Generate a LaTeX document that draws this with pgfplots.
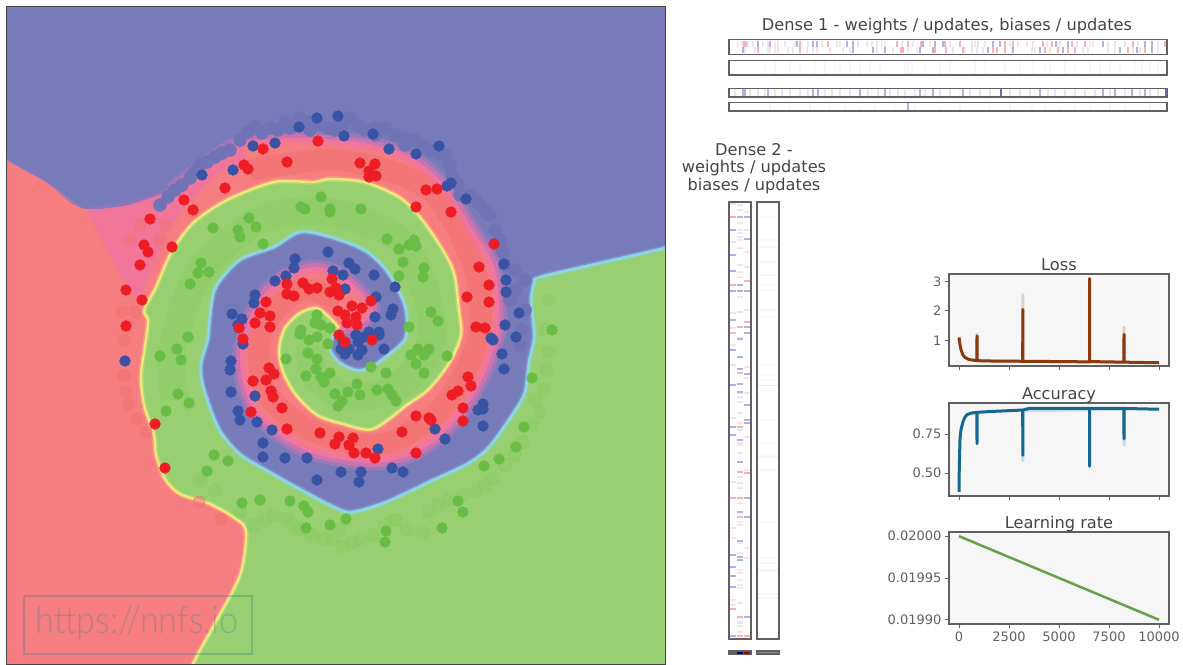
\documentclass[border=0pt]{standalone}
\usepackage{pgfplots}
\usepackage{fontspec}
\pgfplotsset{compat=1.18}
\setmainfont{DejaVu Sans}
\newfontfamily\wmfont{Lato Light}
\definecolor{bgblue}{HTML}{787BBA}
\definecolor{bgred}{HTML}{F67D80}
\definecolor{bggreen}{HTML}{97CF71}
\definecolor{armgreen}{HTML}{8BCB60}
\definecolor{armred}{HTML}{F47272}
\definecolor{pinkedge}{HTML}{EE72AE}
\definecolor{cyanedge}{HTML}{8ED9F0}
\definecolor{yellowedge}{HTML}{F6F07E}
\definecolor{dotred}{HTML}{EE1C25}
\definecolor{dotblue}{HTML}{3953A4}
\definecolor{dotgreen}{HTML}{69BD45}
\definecolor{fadeblue}{HTML}{7073B5}
\definecolor{gtext}{HTML}{444444}
\definecolor{gaxis}{HTML}{606060}
\definecolor{rs}{HTML}{F7B3B9}
\definecolor{rp}{HTML}{FCE0E3}
\definecolor{bs}{HTML}{B0B2E0}
\definecolor{bp}{HTML}{E6E7F6}
\definecolor{fr}{HTML}{FDF5F6}
\definecolor{fb}{HTML}{F5F5FC}
\definecolor{lossc}{HTML}{8B3A10}
\definecolor{accc}{HTML}{14688F}
\definecolor{lrc}{HTML}{689F49}
\definecolor{bd}{HTML}{6A6EB8}

% decision boundaries, in picture pixels
\def\bA{(720,234)(665,248)(600,263)(540,277)(534,283)(531,300)(533,320)(534,339)(529,362)(525,392)(514,412)(489,447)(467,464)(433,480)(386,502)(351,512)(330,505)(296,487)(266,470)(240,454)(219,429)(204,389)(201,365)(208,339)(210,317)(216,287)(240,260)(274,247)(300,232)(330,237)(364,250)(386,270)(403,300)(407,320)(405,339)(392,352)(371,367)(356,370)(339,362)(330,349)(333,337)(339,328)}
\def\bB{(339,328)(330,318)(317,308)(300,313)(285,328)(279,349)(283,372)(296,395)(317,415)(343,424)(373,429)(407,405)(429,389)(450,362)(461,335)(459,310)(454,273)(441,247)(420,217)(399,197)(364,182)(330,179)(313,182)(274,182)(227,200)(193,223)(171,253)(156,287)(144,310)(148,320)(146,339)(141,375)(144,405)(154,435)(156,455)(165,479)(180,494)(210,504)(236,519)(246,532)(240,575)(214,625)(193,664)(170,720)}
\def\bC{(-40,130)(6,160)(47,183)(81,208)(129,205)(171,190)(201,167)(240,143)(300,138)(364,143)(411,157)(446,187)(471,227)(493,263)(499,300)(499,330)(495,345)(484,375)(463,412)(437,439)(411,455)(377,463)(343,460)(309,452)(279,435)(253,409)(242,379)(240,352)(244,337)(249,320)(261,297)(283,277)(313,267)(338,273)(356,287)(373,307)(365,322)(345,330)(339,328)}
\def\bCglow{(171,190)(201,167)(240,143)(300,138)(364,143)(411,157)(446,187)(471,227)(493,263)(499,300)(499,330)(495,345)(484,375)(463,412)(437,439)(411,455)(377,463)(343,460)(309,452)(279,435)(253,409)(242,379)(240,352)(244,337)(249,320)(261,297)(283,277)(313,267)(338,273)(356,287)(373,307)(365,322)(345,330)(339,328)}
\newcommand\poly[2]{\edef\temp{\noexpand\addplot[#1] coordinates {#2};}\temp}

\pgfplotsset{
  panel/.style={scale only axis, axis background/.style={fill=white},
    ticks=none, axis line style={draw=gaxis,line width=1.3pt}, axis on top},
  stripx/.style={panel, xmin=729, xmax=1167, anchor=south west, width=438pt},
  mk/.style={only marks, mark=|, color=#1, mark options={line width=1.8pt, solid}},
  mkh/.style={only marks, mark=-, color=#1, mark options={line width=2.2pt, solid}, mark size=3.3pt},
  metric/.style={scale only axis, anchor=south west, width=220pt, xmin=-500, xmax=10500,
    axis background/.style={fill=black!3.5}, axis line style={draw=gaxis,line width=1.3pt},
    axis on top, tick style={draw=gaxis,line width=1pt}, tick align=outside,
    major tick length=4pt, xtick={0,2500,5000,7500,10000}, xtick pos=bottom, ytick pos=left,
    tick label style={font=\fontsize{13}{15}\selectfont, text=gaxis},
    /pgf/number format/assume math mode=true, /pgf/number format/1000 sep={},
    scaled y ticks=false, scaled x ticks=false},
}
\begin{document}
\begin{tikzpicture}[x=1pt,y=1pt]
\path[use as bounding box] (0pt,0pt) rectangle (1183pt,664pt);

% ---------- main decision map
\begin{axis}[at={(6pt,0pt)}, anchor=south west, scale only axis, width=659pt, height=658pt,
  xmin=6, xmax=665, ymin=6, ymax=664, y dir=reverse, ticks=none,
  axis background/.style={fill=bgblue}, axis line style={draw=gtext,line width=1pt}, axis on top]
\addplot[only marks, mark=*, mark size=6.5pt, color=fadeblue, mark options={draw=none}] coordinates {
(240,140)(248,132)(255,127)(262,133)(270,128)(278,130)(285,122)(293,126)(300,118)(310,122)(320,125)(328,128)(335,130)(343,124)(350,118)(358,126)(365,130)(375,128)(385,128)(395,135)(405,138)(415,140)(423,146)(430,150)(438,153)(445,155)(450,165)(452,175)(458,185)(460,195)(470,195)(476,200)(480,205)(486,212)(490,215)(495,230)(500,240)(503,252)(505,265)(515,270)(525,280)(230,150)(222,153)(215,157)(207,162)(200,165)(195,172)(190,178)(182,185)(175,190)(168,197)(160,205)(290,128)(310,130)(340,125)(375,135)(405,145)(510,300)(525,310)(522,330)(520,345)(516,290)};
\poly{smooth, fill=bggreen, draw=none}{\bA \bB (720,720)}
\poly{smooth, fill=bgred, draw=none}{\bB (-50,720) \bC}
% washed pink area
\addplot[fill=pinkedge, fill opacity=.55, draw=pinkedge, draw opacity=.15, line width=7pt, line join=round] coordinates {(88,211)(129,205)(171,190)(201,167)(240,143)(245,160)(215,175)(185,205)(165,235)(150,270)(140,300)(125,280)(88,211)};
% arm tints
\addplot[smooth, draw=armgreen, line width=28pt, opacity=.45] coordinates {(175,400)(172,350)(200,272)(260,220)(330,212)(400,240)(428,300)(430,345)(400,385)(350,398)(315,375)(310,345)};
\addplot[smooth, draw=armred, line width=22pt, opacity=.7] coordinates {(340,300)(300,290)(262,330)(265,390)(310,430)(380,445)(440,410)(478,340)(475,270)(430,190)(340,160)(250,170)};
\addplot[only marks, mark=*, mark size=6pt, color=armred, mark options={draw=none, fill opacity=.5}] coordinates {
(122,312)(135,312)(128,325)(124,340)(124,375)(126,392)(129,404)(137,419)(146,432)(199,502)(221,519)(130,240)(140,225)(165,225)(160,240)};
\addplot[only marks, mark=*, mark size=6.5pt, color=armgreen, mark options={draw=none, fill opacity=.45}] coordinates {
(253,525)(265,520)(274,515)(287,519)(293,525)(300,530)(312,535)(324,539)(333,540)(343,547)(352,542)(360,539)(373,535)(385,525)(395,520)(407,529)(422,532)(429,512)(438,505)(450,499)(463,495)(476,492)(485,485)(493,479)(505,465)(515,455)(523,442)(532,425)(540,412)(544,390)(547,370)(549,352)(549,300)(535,400)(200,480)(215,490)(340,530)(395,520)(240,512)(545,330)};
% edge glow
\poly{smooth, draw=pinkedge, line width=15pt, opacity=.3}{\bCglow}
\poly{smooth, draw=pinkedge, line width=8pt, opacity=.55}{\bCglow}
\addplot[draw=pinkedge, line width=1.5pt, opacity=.5] coordinates {(6,160)(47,183)(81,208)};
\poly{smooth, draw=cyanedge, line width=6pt, opacity=.22}{\bA}
\poly{smooth, draw=cyanedge, line width=2.8pt, opacity=.85}{\bA}
\poly{smooth, draw=yellowedge, line width=5.5pt, opacity=.25}{\bB}
\poly{smooth, draw=yellowedge, line width=2.4pt, opacity=.85}{\bB}
% training points
\addplot[only marks, mark=*, mark size=5.4pt, color=dotblue, mark options={draw=none}] coordinates {
(338,116)(317,118)(299,127)(344,136)(373,134)(275,143)(253,146)(389,149)(439,146)(416,154)(233,170)(202,175)(451,183)(447,186)(466,199)(504,264)(506,280)(506,292)(519,313)(505,325)(328,252)(295,259)(294,268)(333,271)(349,263)(343,275)(355,269)(374,275)(275,281)(286,276)(345,289)(395,287)(376,297)(255,295)(254,303)(393,309)(391,315)(375,317)(232,314)(242,319)(238,325)(369,332)(379,332)
(125,361)(231,361)(230,370)(231,392)(255,396)(238,411)(240,420)(257,422)(272,430)(263,443)(263,457)(285,458)(307,458)(378,449)(341,472)(361,472)(359,482)(317,480)(392,468)(403,472)(435,429)(445,439)(483,426)(478,410)(483,404)(483,409)(504,369)(502,354)(493,340)(491,338)(516,337)(243,344)(345,354)(358,355)(362,350)(384,349)(379,335)(358,342)(341,349)(356,335)(364,337)(343,342)(349,349)};
\addplot[only marks, mark=*, mark size=5.4pt, color=dotgreen, mark options={draw=none}] coordinates {
(321,197)(301,207)(305,209)(330,209)(330,212)(361,209)(249,218)(256,227)(238,230)(213,228)(240,237)(263,244)(387,239)(414,240)(399,249)(409,245)(416,246)(403,262)(201,263)(198,273)(209,272)(190,284)(424,268)(423,277)(399,276)(431,312)(438,321)(409,327)(552,330)(317,315)(315,323)(321,325)(330,328)(301,330)
(160,356)(177,349)(181,360)(188,337)(178,394)(189,403)(166,411)(214,455)(228,461)(207,471)(242,503)(260,500)(290,501)(304,506)(308,512)(306,528)(330,525)(346,519)(386,531)(385,542)(442,528)(458,501)(463,512)(484,466)(499,459)(516,447)(524,427)(532,378)(286,359)(308,353)(317,359)(316,369)(306,376)(330,373)(324,382)(321,377)(357,384)(348,392)(360,395)(335,394)(342,401)(338,406)(377,390)(388,389)(396,401)(392,395)(371,367)(386,373)(424,373)(416,364)(411,355)(418,349)(429,349)(424,355)(447,356)(309,340)(317,337)(328,344)(300,334)};
\addplot[only marks, mark=*, mark size=5.4pt, color=dotred, mark options={draw=none}] coordinates {
(318,141)(263,149)(287,162)(244,165)(248,169)(360,163)(375,164)(369,171)(376,176)(369,177)(225,188)(426,190)(437,189)(184,200)(193,210)(416,207)(451,212)(150,219)(144,245)(148,252)(172,247)(494,244)(140,265)(479,267)(126,290)(142,300)(489,285)(467,297)(489,302)(126,326)(332,279)(287,284)(303,283)(309,289)(317,288)(287,294)(294,296)(330,292)(336,288)(339,295)(266,302)(371,301)(260,313)(270,316)(255,323)(270,327)(239,328)(338,311)(352,306)(362,308)(345,315)(356,317)(347,323)(357,325)(476,327)(485,328)
(243,339)(345,342)(339,335)(372,340)(269,368)(274,374)(253,381)(266,380)(271,391)(273,397)(282,408)(251,412)(287,429)(320,433)(339,437)(353,438)(335,444)(349,445)(354,453)(366,453)(375,458)(416,453)(402,432)(416,416)(429,418)(431,420)(463,408)(463,421)(452,395)(458,391)(468,377)(471,386)(155,424)(165,468)};
% watermark
\addplot[draw=teal!70!gray, line width=1.5pt, opacity=.3] coordinates {(24,596)(252,596)(252,654)(24,654)(24,596)};
\node[text=teal!70!gray, opacity=.28, font=\wmfont\fontsize{38}{42}\selectfont, anchor=center, xscale=.9] at (axis cs:137,623) {https://nnfs.io};
\end{axis}

% ---------- Dense 1 strips
\begin{axis}[stripx, at={(729pt,609.5pt)}, height=15pt, ymin=0, ymax=2]
\addplot[mk=rp, mark size=3.1pt] coordinates {(738,1.45)(742,1.45)(768,1.45)(778,1.45)(840,1.45)(867,1.45)(795,1.45)(822,1.45)(882,1.45)(902,1.45)(930,1.45)(950,1.45)(975,1.45)(985,1.45)(1018,1.45)(1027,1.45)(1033,1.45)(1047,1.45)(1068,1.45)(1090,1.45)(1108,1.45)(1138,1.45)(755,.55)(768,.55)(775,.55)(778,.55)(793,.55)(807,.55)(817,.55)(830,.55)(843,.55)(893,.55)(908,.55)(917,.55)(965,.55)(983,.55)(1012,.55)(1032,.55)(1050,.55)(1083,.55)(1108,.55)(1133,.55)(1140,.55)};
\addplot[mk=bp, mark size=3.1pt] coordinates {(748,1.45)(753,1.45)(763,1.45)(775,1.45)(785,1.45)(808,1.45)(837,1.45)(858,1.45)(872,1.45)(877,1.45)(885,1.45)(913,1.45)(972,1.45)(978,1.45)(1010,1.45)(1060,1.45)(1077,1.45)(1093,1.45)(1115,1.45)(1125,1.45)(1158,1.45)(745,.55)(770,.55)(788,.55)(813,.55)(850,.55)(877,.55)(953,.55)(972,.55)(977,.55)(1035,.55)(1088,.55)(1115,.55)(1158,.55)};
\addplot[mk=rs, mark size=3.1pt] coordinates {(744,1.45)(746,1.45)(828,1.45)(800,1.45)(897,1.45)(908,1.45)(921,1.45)(945,1.45)(960,1.45)(1005,1.45)(1013,1.45)(1043,1.45)(1052,1.45)(1085,1.45)(1133,1.45)(1165,1.45)(1072,1.45)(800,.55)(758,.55)(901,.55)(903,.55)(935,.55)(946,.55)(993,.55)(997,.55)(1005,.55)(963,.55)(1045,.55)(1058,.55)(1068,.55)(1075,.55)(1128,.55)(1145,.55)};
\addplot[mk=bs, mark size=3.1pt] coordinates {(758,1.45)(770,1.45)(797,1.45)(813,1.45)(817,1.45)(847,1.45)(853,1.45)(993,1.45)(1000,1.45)(943,1.45)(923,1.45)(935,1.45)(1056,1.45)(1103,1.45)(1145,1.45)(1152,1.45)(1068,1.45)(743,.55)(853,.55)(873,.55)(885,.55)(920,.55)(933,.55)(988,.55)(1013,.55)(1040,.55)(1063,.55)(1120,.55)(1137,.55)(1152,.55)};
\end{axis}
\begin{axis}[stripx, at={(729pt,589pt)}, height=14.5pt, ymin=0, ymax=1]
\addplot[mk=fr, mark size=6.4pt] coordinates {(765,.5)(790,.5)(815,.5)(835,.5)(850,.5)(870,.5)(905,.5)(925,.5)(950,.5)(985,.5)(1020,.5)(1033,.5)(1045,.5)(1075,.5)(1090,.5)(1110,.5)(1135,.5)(1150,.5)};
\addplot[mk=fb, mark size=6.4pt] coordinates {(775,.5)(800,.5)(825,.5)(840,.5)(860,.5)(880,.5)(908,.5)(912,.5)(940,.5)(975,.5)(1005,.5)(1050,.5)(1065,.5)(1100,.5)(1120,.5)(1142,.5)(1158,.5)};
\end{axis}
\begin{axis}[stripx, at={(729pt,567pt)}, height=8.5pt, ymin=0, ymax=1]
\addplot[mk=bp, mark size=3.6pt] coordinates {(735,.5)(750,.5)(758,.5)(765,.5)(775,.5)(782,.5)(790,.5)(800,.5)(808,.5)(825,.5)(832,.5)(840,.5)(850,.5)(868,.5)(878,.5)(890,.5)(898,.5)(905,.5)(915,.5)(925,.5)(940,.5)(950,.5)(970,.5)(980,.5)(990,.5)(1010,.5)(1020,.5)(1030,.5)(1048,.5)(1055,.5)(1065,.5)(1075,.5)(1085,.5)(1095,.5)(1110,.5)(1125,.5)(1140,.5)(1150,.5)(1158,.5)};
\addplot[mk=fr, mark size=3.6pt] coordinates {(772,.5)(830,.5)(845,.5)(872,.5)(910,.5)(960,.5)(1005,.5)(1035,.5)(1072,.5)(1128,.5)};
\addplot[mk=bs, mark size=3.6pt] coordinates {(743,.5)(745,.5)(768,.5)(813,.5)(818,.5)(860,.5)(885,.5)(920,.5)(933,.5)(963,.5)(1040,.5)(1103,.5)(1115,.5)(1132,.5)(1145,.5)};
\addplot[mk=bd, mark size=3.6pt] coordinates {(1001,.5)(1166,.5)};
\end{axis}
\begin{axis}[stripx, at={(729pt,553pt)}, height=8.5pt, ymin=0, ymax=1]
\addplot[mk=fr, mark size=3.6pt] coordinates {(790,.5)(830,.5)(860,.5)(895,.5)(940,.5)(990,.5)(1032,.5)(1033,.5)(1060,.5)(1090,.5)(1125,.5)};
\addplot[mk=fb, mark size=3.6pt] coordinates {(770,.5)(810,.5)(845,.5)(875,.5)(915,.5)(960,.5)(1010,.5)(1045,.5)(1075,.5)(1110,.5)(1150,.5)};
\addplot[mk=bs, mark size=3.6pt] coordinates {(908,.5)};
\end{axis}

% ---------- Dense 2 columns
\begin{axis}[panel, anchor=south west, at={(729pt,25pt)}, width=22pt, height=437pt, xmin=729, xmax=751, ymin=202, ymax=639, y dir=reverse]
\addplot[mkh=rp] coordinates {(733,204)(747,212)(740,223)(747,230)(740,240)(747,252)(740,265)(740,272)(740,277)(747,310)(733,313)(733,345)(747,367)(747,378)(747,393)(733,418)(740,423)(747,437)(740,445)(747,470)(740,483)(740,488)(740,503)(733,528)(733,538)(740,543)(747,548)(747,558)(740,573)(740,588)(733,600)(733,605)(740,623)(740,626)(740,632)};
\addplot[mkh=bp] coordinates {(740,205)(740,210)(740,230)(740,233)(740,237)(733,242)(740,248)(747,267)(740,297)(740,312)(733,328)(740,338)(740,393)(740,397)(740,402)(740,413)(740,430)(740,443)(740,453)(740,477)(733,482)(740,522)(740,525)(740,553)(740,570)(740,580)(740,603)(740,622)(740,585)(733,365)};
\addplot[mkh=rs] coordinates {(733,217)(733,285)(747,281)(733,333)(740,327)(747,322)(740,373)(740,427)(740,472)(747,473)(733,498)(740,498)(740,517)(733,609)(740,617)(747,636)(740,636)};
\addplot[mkh=bs] coordinates {(740,217)(747,217)(733,230)(747,239)(733,255)(733,271)(740,285)(733,291)(740,291)(747,291)(733,320)(747,327)(747,333)(740,339)(733,350)(740,357)(740,369)(747,374)(733,385)(740,384)(740,392)(747,405)(747,420)(747,423)(733,427)(733,435)(740,440)(740,462)(747,498)(740,512)(747,517)(740,541)(733,555)(740,557)(740,560)(733,567)(733,576)(733,587)(747,617)(733,636)};
\end{axis}
\begin{axis}[panel, anchor=south west, at={(757pt,25pt)}, width=22pt, height=437pt, xmin=757, xmax=779, ymin=202, ymax=639, y dir=reverse]
\addplot[only marks, mark=-, color=fr, mark size=9.8pt, mark options={line width=1.5pt}] coordinates {(768,204)(768,217)(768,240)(768,247)(768,285)(768,290)(768,310)(768,317)(768,365)(768,375)(768,380)(768,420)(768,443)(768,455)(768,522)(768,558)(768,571)(768,594)};
\addplot[only marks, mark=-, color=fb, mark size=9.8pt, mark options={line width=1.5pt}] coordinates {(768,262)(768,275)(768,310)(768,457)(768,470)(768,563)(768,570)(768,598)};
\addplot[only marks, mark=-, color=black!8, mark size=9.8pt, mark options={line width=1pt}] coordinates {(768,385)};
\end{axis}
\begin{axis}[panel, anchor=south west, at={(729pt,10pt)}, width=22pt, height=3pt, xmin=729, xmax=751, ymin=0, ymax=1, axis background/.style={fill=gaxis}]
\addplot[only marks, mark=-, color=blue!60!black, mark size=3.3pt, mark options={line width=2pt}] coordinates {(740,.5)};
\addplot[only marks, mark=-, color=red!70!black, mark size=3.3pt, mark options={line width=2pt}] coordinates {(747,.5)};
\end{axis}
\begin{axis}[panel, anchor=south west, at={(757pt,10pt)}, width=22pt, height=3pt, xmin=757, xmax=779, ymin=0, ymax=1, axis background/.style={fill=gaxis!70}]
\end{axis}

% ---------- Loss
\begin{axis}[metric, at={(949pt,298pt)}, height=92pt, ymin=.13, ymax=3.25, ytick={1,2,3}, xticklabels={}]
\addplot[draw=lossc, opacity=.2, line width=3pt, line join=round] coordinates {(895,.31)(900,1.2)(905,.31)(3185,.29)(3190,2.55)(3195,.29)(8245,.26)(8250,1.45)(8255,.26)};
\addplot[draw=lossc, line width=3pt, line join=round] coordinates {(0,1.1)(20,1.0)(50,.85)(100,.68)(200,.5)(300,.42)(500,.35)(800,.32)(895,.31)(900,1.15)(905,.31)(1500,.3)(3185,.29)(3190,2.05)(3195,.29)(5000,.28)(6525,.27)(6530,3.1)(6535,.28)(8245,.26)(8250,1.2)(8255,.26)(10000,.24)};
\end{axis}
% ---------- Accuracy
\begin{axis}[metric, at={(949pt,168pt)}, height=93pt, ymin=.354, ymax=.95, ytick={.5,.75}, xticklabels={}, yticklabel style={/pgf/number format/.cd, fixed, fixed zerofill, precision=2}]
\addplot[draw=accc, opacity=.2, line width=3pt, line join=round] coordinates {(3185,.9)(3190,.58)(3195,.9)(8245,.91)(8250,.68)(8255,.91)};
\addplot[draw=accc, line width=3pt, line join=round] coordinates {(0,.38)(10,.5)(30,.62)(50,.72)(100,.78)(200,.83)(300,.86)(400,.875)(600,.885)(895,.89)(900,.69)(905,.89)(1500,.895)(3185,.905)(3190,.615)(3195,.905)(3500,.915)(6525,.915)(6530,.545)(6535,.915)(8245,.915)(8250,.72)(8255,.915)(10000,.91)};
\end{axis}
% ---------- Learning rate
\begin{axis}[metric, at={(949pt,40pt)}, height=92pt, ymin=.019895, ymax=.020005, ytick={.0199,.01995,.02}, yticklabels={0.01990,0.01995,0.02000}, xticklabels={0,2500,5000,7500,10000}]
\addplot[draw=lrc, line width=2.5pt] coordinates {(0,.02)(2500,.019975)(5000,.01995)(7500,.019925)(10000,.0199)};
\end{axis}

% ---------- titles
\tikzset{ttl/.style={text=gtext, font=\fontsize{16.2}{18}\selectfont, inner sep=0pt, anchor=center}}
\node[ttl] at (947pt,638pt) {Dense 1 - weights / updates, biases / updates};
\node[ttl] at (754pt,514pt) {Dense 2 -};
\node[ttl] at (754pt,496pt) {weights / updates};
\node[ttl] at (754pt,478pt) {biases / updates};
\node[ttl] at (1059pt,399pt) {Loss};
\node[ttl] at (1059pt,269pt) {Accuracy};
\node[ttl] at (1059pt,140pt) {Learning rate};
\end{tikzpicture}
\end{document}
